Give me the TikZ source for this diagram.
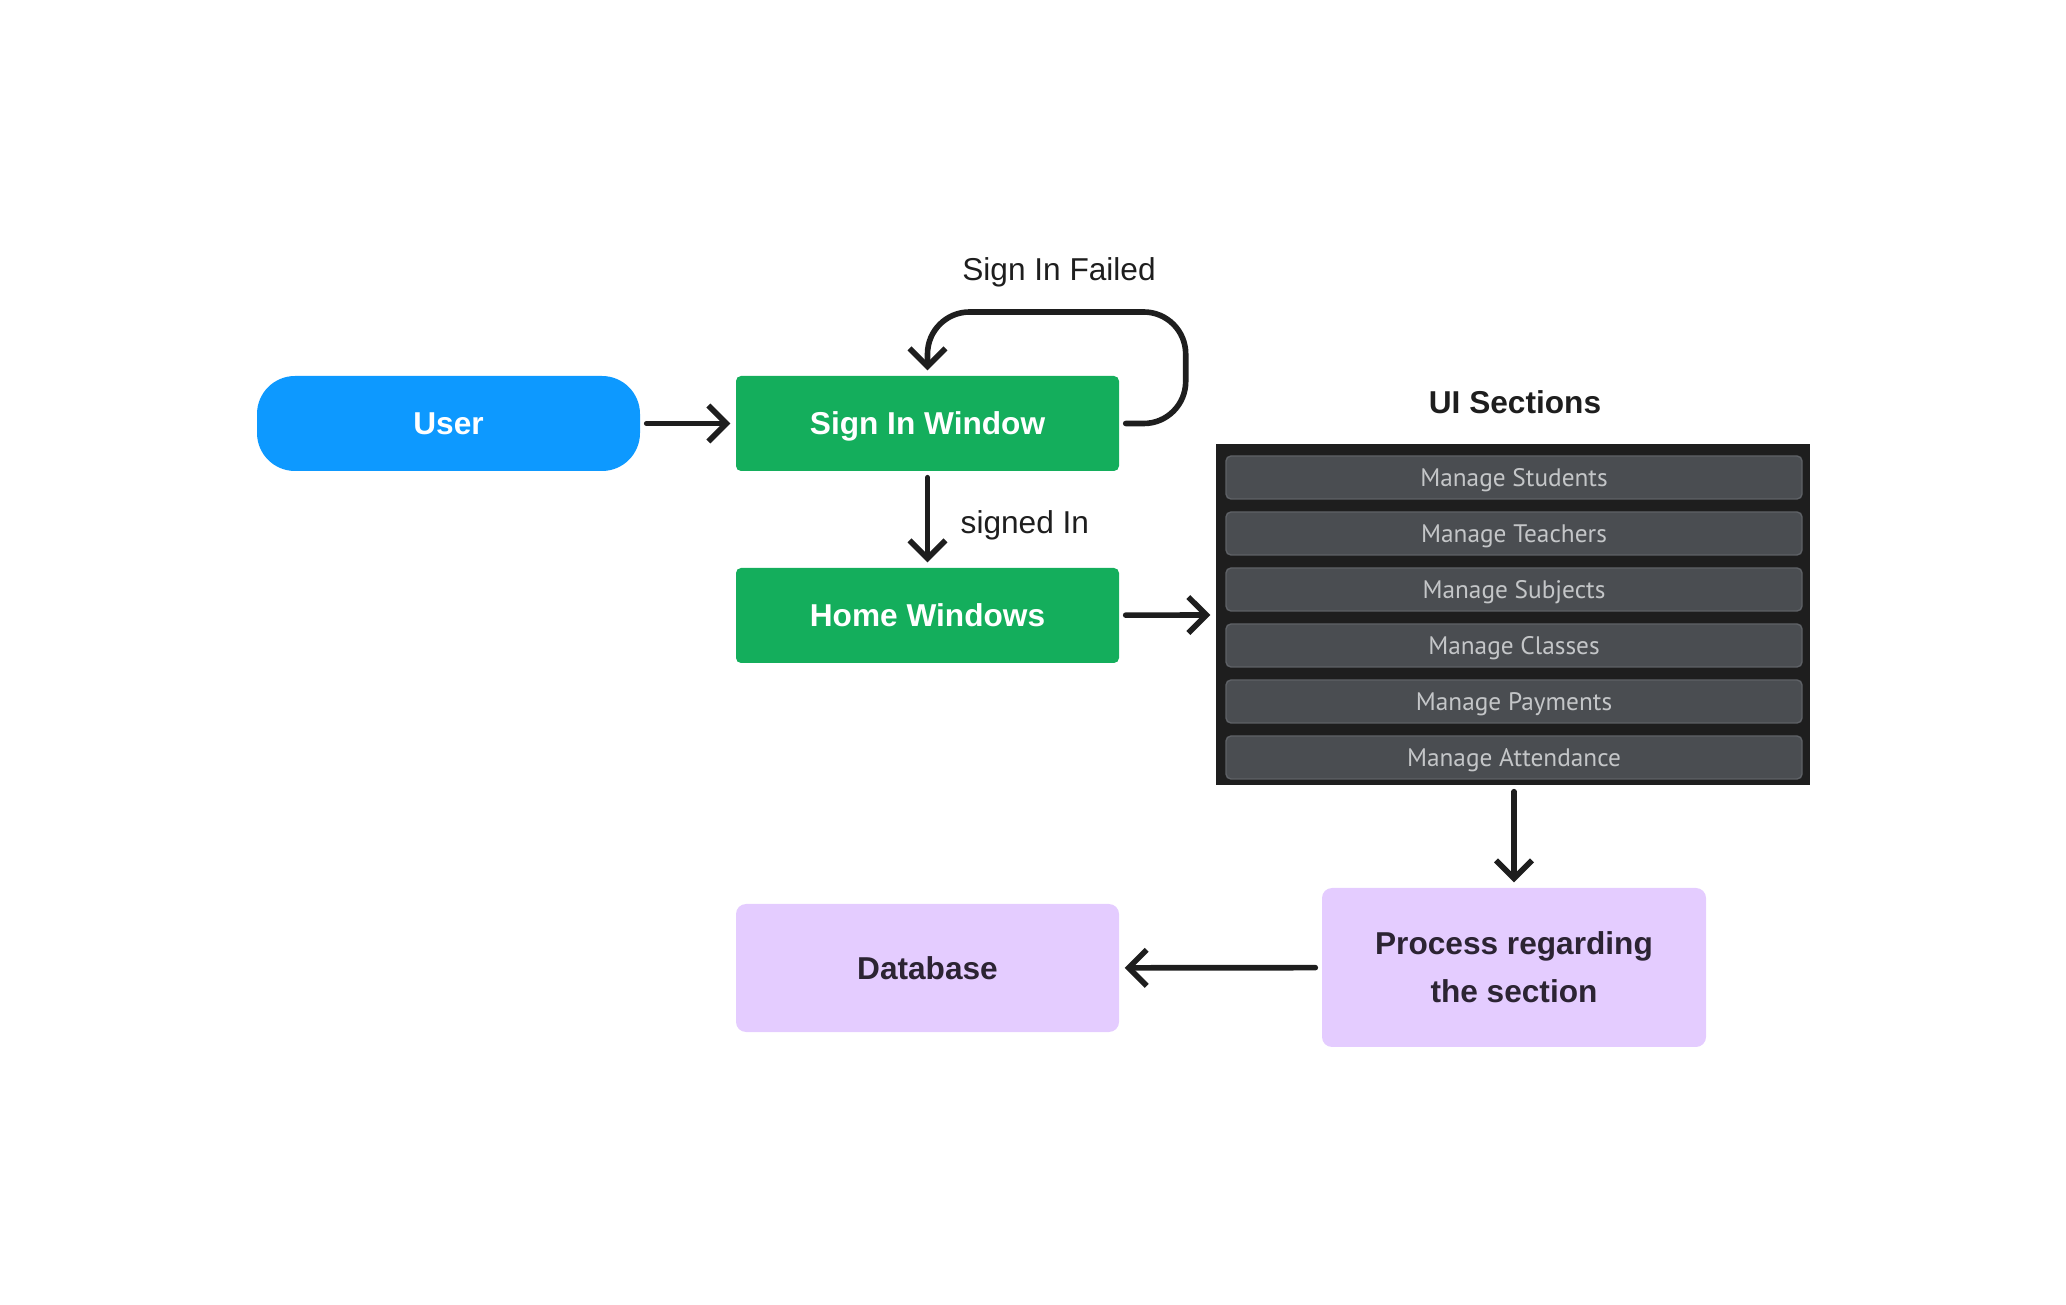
\documentclass[tikz,border=0pt]{standalone}
\usepackage{fontspec}
\setmainfont{Liberation Sans}
\newfontfamily\btnfont{PT Sans}
\usetikzlibrary{arrows.meta, positioning}

\definecolor{userblue}{HTML}{0D99FF}
\definecolor{wingreen}{HTML}{14AE5C}
\definecolor{lavender}{HTML}{E4CCFF}
\definecolor{panel}{HTML}{1E1E1E}
\definecolor{btnfill}{HTML}{4A4D51}
\definecolor{btnline}{HTML}{5E6166}
\definecolor{btntext}{HTML}{C4C6C8}
\definecolor{ink}{HTML}{1E1E1E}
\definecolor{procink}{HTML}{2C2433}

\begin{document}
\begin{tikzpicture}[
      box/.style={minimum width=3.83cm, minimum height=0.95cm, inner sep=0pt, font=\fontsize{9}{13.7}\selectfont\bfseries},
      user/.style={box, fill=userblue, text=white, rounded corners=0.38cm},
      win/.style={box, fill=wingreen, text=white, rounded corners=0.05cm, text depth=0pt},
      proc/.style={box, fill=lavender, text=procink, rounded corners=0.1cm, align=center},
      btn/.style={draw=btnline, line width=0.4pt, fill=btnfill, text=btntext, rounded corners=0.05cm, minimum width=5.76cm, minimum height=0.43cm, inner sep=0pt, text depth=0pt, font=\btnfont\fontsize{7.2}{8}\selectfont},
      lbl/.style={text=ink, inner sep=0pt, font=\fontsize{9}{11}\selectfont},
      arr/.style={-{Straight Barb[length=0.18cm, width=0.36cm]}, line width=1.6pt, ink, line cap=round, line join=round, shorten <=0.06cm, shorten >=0.05cm}
    ]
      \useasboundingbox (0,0) rectangle (20.66,13.04);

      % Login flow
      \node[user] (user) at (4.485,8.805) {User};
      \node[win] (signin) at (9.275,8.805) {Sign In Window};
      \node[win] (home) at (9.275,6.885) {Home Windows};

      % UI sections panel
      \node[fill=panel, minimum width=5.94cm, minimum height=3.41cm, inner sep=0pt] (uipanel) at (15.13,6.895) {};
      \node[lbl, font=\fontsize{9}{11}\selectfont\bfseries] (uititle) at (15.15,9.02) {UI Sections};
      \foreach \name [count=\i from 0] in {Manage Students, Manage Teachers, Manage Subjects, Manage Classes, Manage Payments, Manage Attendance}
        \node[btn] (btn\i) at (15.14,8.265-0.56*\i) {\name};

      % Processing
      \node[proc, minimum width=3.84cm, minimum height=1.59cm] (process) at (15.14,3.365) {Process regarding\\the section};
      \node[proc, minimum width=3.83cm, minimum height=1.28cm] (database) at (9.275,3.36) {Database};

      % Labels
      \node[lbl] (failedlbl) at (10.59,10.32) {Sign In Failed};
      \node[lbl, anchor=west] (signedlbl) at (9.60,7.79) {signed In};

      % Arrows
      \draw[arr] (user) -- (signin);
      \draw[arr, rounded corners=0.42cm] (signin.east) -- ++(0.66,0) -- ++(0,1.115) -| (signin.north);
      \draw[arr] (signin) -- (home);
      \draw[arr] (home) -- (uipanel);
      \draw[arr] (process.north |- uipanel.south) -- (process.north);
      \draw[arr] (process) -- (database);
    \end{tikzpicture}
\end{document}
